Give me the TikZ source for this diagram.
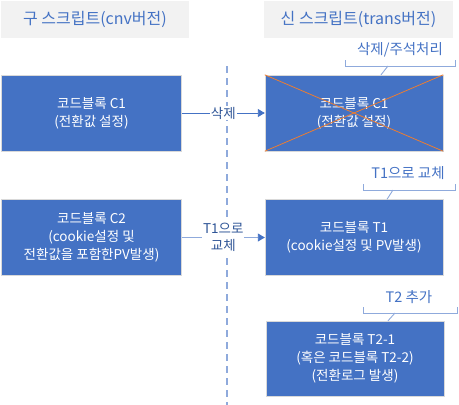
\documentclass[tikz,border=0pt]{standalone}
\usepackage{fontspec}
\setmainfont{Noto Sans CJK KR}
\usetikzlibrary{arrows.meta,calc}
\definecolor{BlockBlue}{HTML}{4472C4}
\definecolor{LightBlue}{HTML}{8FAADC}
\definecolor{DarkBlue}{HTML}{2F5597}
\definecolor{TitleBg}{HTML}{F2F2F2}
\definecolor{CrossOrange}{HTML}{ED7D31}
\definecolor{EdgeGray}{HTML}{D9D9D9}

\begin{document}
\begin{tikzpicture}[x=1pt, y=-1pt,
    title/.style={fill=TitleBg, text=BlockBlue, font=\fontsize{16}{18}\selectfont, minimum width=188pt, minimum height=37pt, inner sep=0pt},
    block/.style={draw=EdgeGray, fill=BlockBlue, text=white, align=center, font=\fontsize{13.5}{18}\selectfont, minimum width=180pt, minimum height=76pt, inner sep=0pt},
    arr/.style={-{Triangle[length=7pt, width=8pt]}, draw=BlockBlue, line width=0.9pt},
    lbl/.style={fill=white, text=DarkBlue, align=center, font=\fontsize{13.5}{17}\selectfont, inner sep=1pt},
    note/.style={text=BlockBlue, font=\fontsize{14.5}{15}\selectfont, inner sep=0pt},
    brace/.style={draw=LightBlue, line width=0.9pt}
  ]
    \useasboundingbox (0,0) rectangle (459,405);

    % column titles
    \node[title] (ttlold) at (95,19.5) {구 스크립트(cnv버전)};
    \node[title, minimum width=189pt] (ttlnew) at (358.5,19.5) {신 스크립트(trans버전)};

    % divider
    \coordinate (divtop) at (227,66);
    \coordinate (divbot) at (227,405);
    \draw[draw=LightBlue, line width=1.6pt, dash pattern=on 7pt off 5pt] (divtop) -- (divbot);

    % code blocks
    \node[block] (c1) at (91.5,113) {코드블록 C1\\(전환값 설정)};
    \node[block, minimum width=178pt] (c1new) at (354,113) {코드블록 C1\\(전환값 설정)};
    \draw[draw=CrossOrange, line width=0.8pt] (c1new.north west) -- (c1new.south east);
    \draw[draw=CrossOrange, line width=0.8pt] (c1new.south west) -- (c1new.north east);
    \node[block] (c2) at (91.5,237.5) {코드블록 C2\\(cookie설정 및\\전환값을 포함한PV발생)};
    \node[block, minimum width=178pt] (t1) at (354,237.5) {코드블록 T1\\(cookie설정 및 PV발생)};
    \node[block, minimum width=178pt, minimum height=75pt] (t2) at (355,358.5) {코드블록 T2-1\\(혹은 코드블록 T2-2)\\(전환로그 발생)};

    % arrows
    \draw[arr] (c1) -- node[lbl] {삭제} (c1new);
    \draw[arr, draw=LightBlue, -{Triangle[length=7pt, width=8pt, color=BlockBlue]}] (c2) -- node[lbl] {T1으로\\교체} (t1);

    % callouts
    \node[note] (n1) at (400,50) {삭제/주석처리};
    \coordinate (b1l) at (345,60);
    \coordinate (b1r) at (455,60);
    \draw[brace] (b1l) -- ++(0,6) -- ($(b1r)+(0,6)$) -- (b1r);
    \draw[brace] (388,66) -- (c1new.north -| 381,0);

    \node[note] (n2) at (408,173) {T1으로 교체};
    \coordinate (b2l) at (363,184);
    \coordinate (b2r) at (455,184);
    \draw[brace] (b2l) -- ++(0,6) -- ($(b2r)+(0,6)$) -- (b2r);
    \draw[brace] (393,190) -- (t1.north -| 387,0);

    \node[note] (n3) at (409,297) {T2 추가};
    \coordinate (b3l) at (363,307);
    \coordinate (b3r) at (457,307);
    \draw[brace] (b3l) -- ++(0,6) -- ($(b3r)+(0,6)$) -- (b3r);
    \draw[brace] (395,313) -- (t2.north -| 388,0);
  \end{tikzpicture}
\end{document}
